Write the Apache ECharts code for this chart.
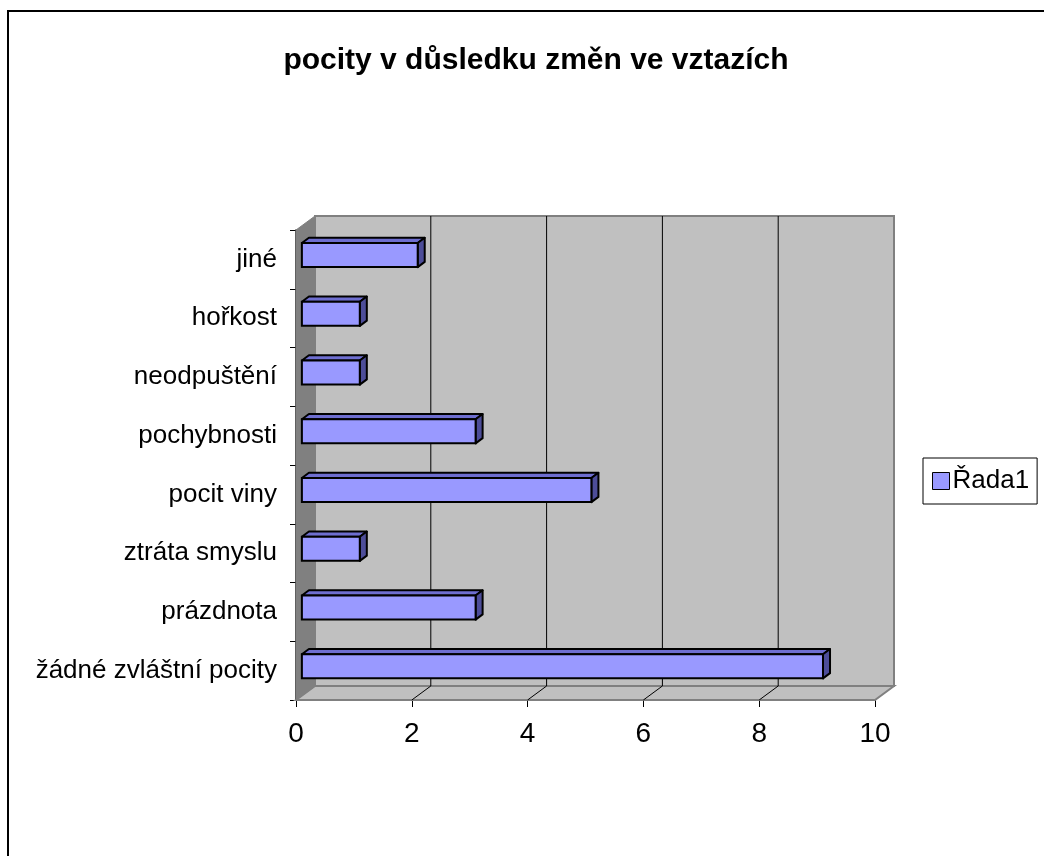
<!DOCTYPE html>
<html>
<head>
<meta charset="utf-8">
<script src="https://cdn.jsdelivr.net/npm/echarts@6/dist/echarts.min.js"></script>
<style>
html,body{margin:0;padding:0;background:#fff;}
#main{width:1044px;height:856px;}
</style>
</head>
<body>
<div id="main"></div>
<script>
// ---- data ----
const titleText = 'pocity v důsledku změn ve vztazích';
const seriesName = 'Řada1';
const categories = ['žádné zvláštní pocity','prázdnota','ztráta smyslu','pocit viny','pochybnosti','neodpuštění','hořkost','jiné'];
const values = [9, 3, 1, 5, 3, 1, 1, 2];
const xTicks = [0, 2, 4, 6, 8, 10];

// ---- styling constants ----
const DEPTH = [19, -14];       // 3D depth offset (px)
const BAR_FRONT = 0.31;        // bar front face position within depth
const BAR_DEPTH = 0.37;        // bar depth fraction
const BAR_H = 0.41;            // bar thickness relative to band
const SANS = "'Liberation Sans', Arial, sans-serif";

const chart = echarts.init(document.getElementById('main'), null, {renderer: 'canvas'});

function renderWalls(params, api) {
  const cs = params.coordSys;
  const x0 = cs.x, x1 = cs.x + cs.width, yt = cs.y, yb = cs.y + cs.height;
  const dx = DEPTH[0], dy = DEPTH[1];
  const children = [];
  // back wall
  children.push({type:'rect', shape:{x:x0+dx, y:yt+dy, width:x1-x0, height:yb-yt},
    style:{fill:'#C0C0C0', stroke:'#808080', lineWidth:2}});
  // floor
  children.push({type:'polygon', shape:{points:[[x0,yb],[x1,yb],[x1+dx,yb+dy],[x0+dx,yb+dy]]},
    style:{fill:'#C0C0C0', stroke:'#808080', lineWidth:2}});
  // gridlines on back wall + floor
  xTicks.forEach(function(t){
    const px = api.coord([t, 0])[0];
    if (t > xTicks[0] && t < xTicks[xTicks.length-1]) {
      children.push({type:'line', shape:{x1:px+dx, y1:yt+dy, x2:px+dx, y2:yb+dy},
        style:{stroke:'#000', lineWidth:1}});
      children.push({type:'line', shape:{x1:px, y1:yb, x2:px+dx, y2:yb+dy},
        style:{stroke:'#000', lineWidth:1}});
    }
  });
  // left wall
  children.push({type:'polygon', shape:{points:[[x0,yt],[x0+dx,yt+dy],[x0+dx,yb+dy],[x0,yb]]},
    style:{fill:'#808080', stroke:'#808080', lineWidth:1}});
  return {type:'group', children: children};
}

function renderBar(params, api) {
  const v = api.value(0), idx = api.value(1);
  const c0 = api.coord([0, idx]);
  const c1 = api.coord([v, idx]);
  const band = api.size([0, 1])[1];
  const h = band * BAR_H;
  const ox = DEPTH[0] * BAR_FRONT, oy = DEPTH[1] * BAR_FRONT;
  const ddx = DEPTH[0] * BAR_DEPTH, ddy = DEPTH[1] * BAR_DEPTH;
  const xl = c0[0] + ox, xr = c1[0] + ox;
  const yt = c0[1] + oy - h / 2, yb = c0[1] + oy + h / 2;
  return {type:'group', children:[
    {type:'polygon', shape:{points:[[xl,yt],[xr,yt],[xr+ddx,yt+ddy],[xl+ddx,yt+ddy]]},
      style:{fill:'#6E6ED0', stroke:'#000', lineWidth:2, lineJoin:'round'}},
    {type:'polygon', shape:{points:[[xr,yt],[xr+ddx,yt+ddy],[xr+ddx,yb+ddy],[xr,yb]]},
      style:{fill:'#4D4D99', stroke:'#000', lineWidth:2, lineJoin:'round'}},
    {type:'rect', shape:{x:xl, y:yt, width:xr-xl, height:yb-yt},
      style:{fill:'#9999FF', stroke:'#000', lineWidth:2}}
  ]};
}

const option = {
  animation: false,
  backgroundColor: '#ffffff',
  graphic: [{
    type:'rect', z:-10, silent:true,
    shape:{x:8, y:11, width:1100, height:900},
    style:{fill:'#fff', stroke:'#000', lineWidth:2}
  }],
  title: {
    text: titleText,
    left: 531, top: 41,
    textAlign: 'center',
    textStyle: {fontFamily: SANS, fontSize: 30, fontWeight: 'bold', color: '#000'}
  },
  legend: {
    orient: 'vertical',
    left: 923, top: 458,
    padding: [10, 8, 10, 9],
    borderColor: '#000', borderWidth: 1,
    itemWidth: 17, itemHeight: 17, itemGap: 6,
    icon: 'rect',
    itemStyle: {borderColor: '#000', borderWidth: 1},
    textStyle: {fontFamily: SANS, fontSize: 26, color: '#000', padding:[0,0,0,-2]},
    data: [{name: seriesName, icon: 'rect', itemStyle: {color: '#9999FF', borderColor: '#000', borderWidth: 1}}]
  },
  grid: {left: 296, right: 169, top: 230, bottom: 156, containLabel: false},
  xAxis: {
    type: 'value', min: 0, max: 10, interval: 2,
    axisLine: {show: true, lineStyle: {color: '#000', width: 1.5}},
    axisTick: {show: true, length: 7, lineStyle: {color: '#000'}},
    splitLine: {show: false},
    axisLabel: {fontFamily: SANS, fontSize: 28, color: '#000', margin: 20}
  },
  yAxis: {
    type: 'category', data: categories,
    axisLine: {show: true, lineStyle: {color: '#000', width: 1.5}},
    axisTick: {show: true, length: 6, lineStyle: {color: '#000'}},
    splitLine: {show: false},
    axisLabel: {fontFamily: SANS, fontSize: 26, color: '#000', margin: 19}
  },
  series: [
    {
      type: 'custom', name: '__walls', silent: true, z: 1,
      renderItem: renderWalls,
      data: [[0, 0]],
      encode: {x: 0, y: 1}
    },
    {
      type: 'custom', name: seriesName, z: 3,
      itemStyle: {color: '#9999FF'},
      renderItem: renderBar,
      data: values.map(function(v, i){ return [v, i]; }),
      encode: {x: 0, y: 1}
    }
  ]
};
chart.setOption(option);
</script>
</body>
</html>
